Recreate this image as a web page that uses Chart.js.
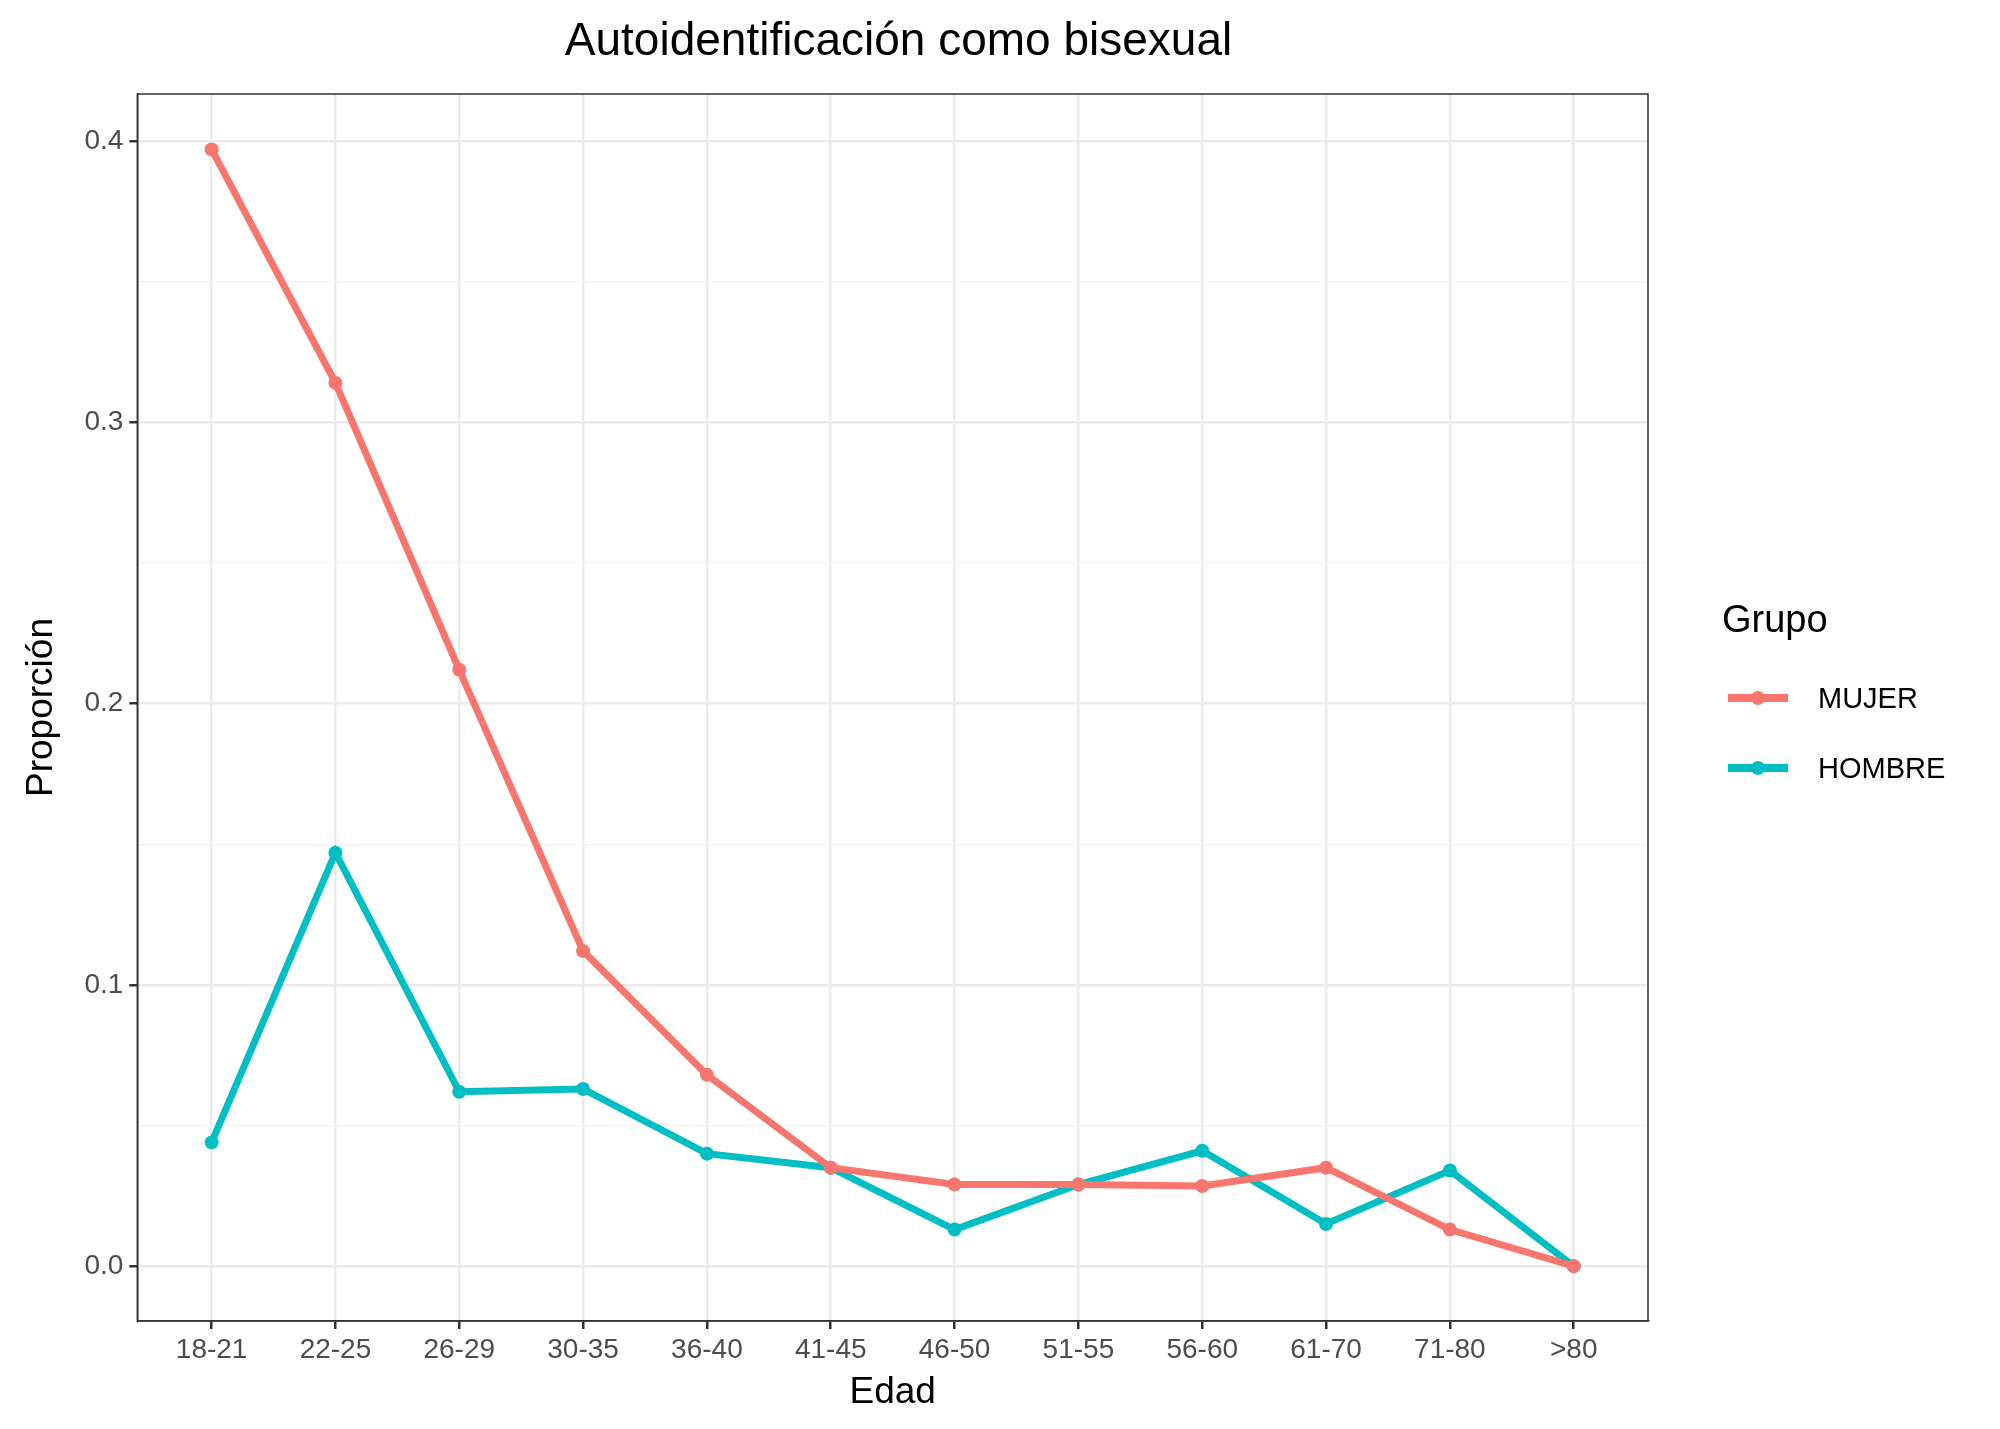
<!DOCTYPE html>
<html><head><meta charset="utf-8">
<script src="https://cdn.jsdelivr.net/npm/chart.js@4"></script>
<style>
body{margin:0;background:#fff;font-family:"Liberation Sans",Arial,sans-serif;}
#wrap{position:relative;width:2000px;height:1429px;}
#title{position:absolute;top:12px;left:142px;width:1513px;text-align:center;font-size:46px;color:#000;}
#legend{position:absolute;left:1722px;top:598px;font-size:29px;color:#000;}
.item{display:flex;align-items:center;height:70px;font-size:29px;}
.sw{position:relative;width:72px;height:20px;margin-right:24px;}
.sw .l{position:absolute;top:6px;left:6px;width:60px;height:8px;}
.sw .d{position:absolute;top:3px;left:29px;width:14px;height:14px;border-radius:50%;}
</style></head><body>
<div id="wrap">
<canvas id="c" width="2000" height="1429"></canvas>
<div id="title">Autoidentificación como bisexual</div>
<div id="legend">
<div style="font-size:38px;margin-bottom:22px">Grupo</div>
<div class="item"><div class="sw"><div class="l" style="background:#F8766D"></div><div class="d" style="background:#F8766D"></div></div>MUJER</div>
<div class="item"><div class="sw"><div class="l" style="background:#00BFC4"></div><div class="d" style="background:#00BFC4"></div></div>HOMBRE</div>
</div>
</div>
<script>
const categories=["18-21","22-25","26-29","30-35","36-40","41-45","46-50","51-55","56-60","61-70","71-80",">80"];
const mujer=[0.397,0.314,0.212,0.112,0.068,0.035,0.029,0.029,0.0285,0.035,0.013,0.0];
const hombre=[0.044,0.147,0.062,0.063,0.040,0.035,0.013,0.029,0.041,0.015,0.034,0.0];
const yTicks=[0,0.05,0.1,0.15,0.2,0.25,0.3,0.35,0.4];
const toXY=a=>a.map((v,i)=>({x:i,y:v}));
const ds=(label,data,col)=>({label,data:toXY(data),borderColor:col,backgroundColor:col,borderWidth:7,pointRadius:7,pointHoverRadius:7,pointBorderWidth:0,tension:0});
const major=v=>Math.round(v*100)%10===0;
new Chart(document.getElementById('c'),{
 type:'line',
 data:{datasets:[ds('MUJER',mujer,'#F8766D'),ds('HOMBRE',hombre,'#00BFC4')]},
 options:{responsive:false,animation:false,
  layout:{padding:{top:94,right:352,bottom:14,left:10}},
  plugins:{legend:{display:false},tooltip:{enabled:false}},
  scales:{
   x:{type:'linear',min:-0.6,max:11.6,
    afterBuildTicks:s=>{s.ticks=categories.map((c,i)=>({value:i}));},
    ticks:{callback:v=>categories[v],color:'#4d4d4d',font:{size:28,family:'Liberation Sans'},maxRotation:0,autoSkip:false,padding:4},
    grid:{color:'#ebebeb',lineWidth:2.5,tickLength:8,tickColor:'#333'},
    border:{color:'#333',width:1.5},
    title:{display:true,text:'Edad',font:{size:37,family:'Liberation Sans'},color:'#000',padding:{top:0,bottom:0}}},
   y:{min:-0.0195,max:0.4167,
    afterBuildTicks:s=>{s.ticks=yTicks.map(v=>({value:v}));},
    ticks:{callback:v=>major(v)?v.toFixed(1):'',color:'#4d4d4d',font:{size:28,family:'Liberation Sans'},padding:6,autoSkip:false},
    grid:{color:c=>major(c.tick.value)?'#ebebeb':'#f3f3f3',lineWidth:c=>major(c.tick.value)?2.5:1.3,tickLength:8,tickColor:c=>major(c.tick.value)?'#333':'rgba(0,0,0,0)'},
    border:{color:'#333',width:1.5},
    title:{display:true,text:'Proporción',font:{size:37,family:'Liberation Sans'},color:'#000',padding:{top:10,bottom:14}}}
  }},
 plugins:[{id:'box',afterDraw(ch){const a=ch.chartArea,c=ch.ctx;c.save();c.strokeStyle='#333';c.lineWidth=1.5;c.strokeRect(a.left,a.top,a.right-a.left,a.bottom-a.top);c.restore();}}]
});
</script>
</body></html>
